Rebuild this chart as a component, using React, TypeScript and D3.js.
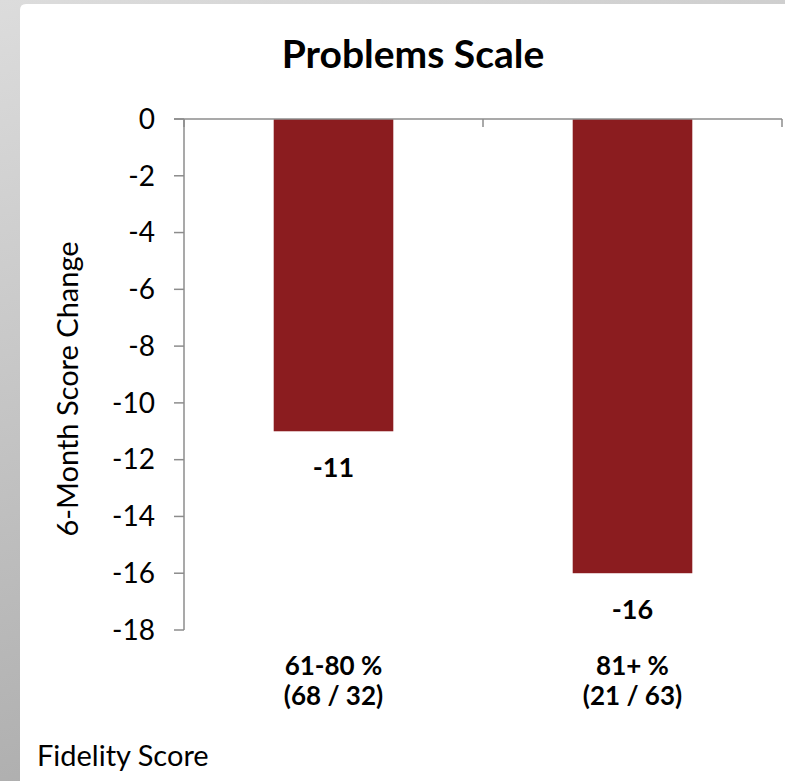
import React from "react";
import * as d3 from "d3";

const categories = ["61-80 %|(68 / 32)", "81+ %|(21 / 63)"];
const values = [-11, -16];
const valueLabels = ["-11", "-16"];
const yTicks = [0, -2, -4, -6, -8, -10, -12, -14, -16, -18];
const title = "Problems Scale";
const yTitle = "6-Month Score Change";
const xTitle = "Fidelity Score";

const W = 785;
const H = 781;
const FONT = "Lato, 'Open Sans', sans-serif";

export default function App() {
  const y = d3.scaleLinear().domain([0, -18]).range([119, 630]);
  const x = d3
    .scaleBand<string>()
    .domain(categories)
    .range([184, 782])
    .paddingInner(0.6)
    .paddingOuter(0.3);
  const step = x.step();
  const bounds = [0, 1, 2].map((i) => 184 + i * step);
  const axisColor = "#8c8c8c";

  return (
    <svg
      width={W}
      height={H}
      style={{ position: "absolute", left: 0, top: 0 }}
      fontFamily={FONT}
    >
      <defs>
        <linearGradient id="bg" x1="0" y1="0" x2="0.3" y2="1">
          <stop offset="0" stopColor="#dcdcdc" />
          <stop offset="1" stopColor="#acacac" />
        </linearGradient>
      </defs>
      <rect x={0} y={0} width={W} height={H} fill="url(#bg)" />
      <path
        d={`M20,${H} L20,10 Q20,4 26,4 L${W},4 L${W},${H} Z`}
        fill="#ffffff"
      />
      <text
        x={413}
        y={68}
        textAnchor="middle"
        fontSize={39}
        fontWeight="bold"
        fill="#000"
      >
        {title}
      </text>
      {/* bars */}
      {categories.map((c, i) => (
        <rect
          key={c}
          x={x(c)}
          y={y(0)}
          width={x.bandwidth()}
          height={y(values[i]) - y(0)}
          fill="#8b1c1f"
        />
      ))}
      {/* y axis */}
      <line x1={184} x2={184} y1={y(0)} y2={y(-18)} stroke={axisColor} strokeWidth={1.5} />
      {yTicks.map((t) => (
        <g key={t}>
          <line x1={174} x2={184} y1={y(t)} y2={y(t)} stroke={axisColor} strokeWidth={1.5} />
          <text
            x={155}
            y={y(t)}
            dy="0.35em"
            textAnchor="end"
            fontSize={28}
            fill="#000"
          >
            {t}
          </text>
        </g>
      ))}
      {/* x axis */}
      <line x1={174} x2={782} y1={y(0)} y2={y(0)} stroke={axisColor} strokeWidth={1.5} />
      {bounds.map((b, i) => (
        <line key={i} x1={b} x2={b} y1={y(0)} y2={y(0) + 8} stroke={axisColor} strokeWidth={1.5} />
      ))}
      {/* value labels */}
      {categories.map((c, i) => (
        <text
          key={c}
          x={(x(c) as number) + x.bandwidth() / 2}
          y={y(values[i]) + 36}
          dy="0.35em"
          textAnchor="middle"
          fontSize={27}
          fontWeight="bold"
          fill="#000"
        >
          {valueLabels[i]}
        </text>
      ))}
      {/* category labels */}
      {categories.map((c) => {
        const cx = (x(c) as number) + x.bandwidth() / 2;
        const lines = c.split("|");
        return (
          <text key={c} textAnchor="middle" fontSize={26} fontWeight="bold" fill="#000">
            {lines.map((l, j) => (
              <tspan key={j} x={cx} y={666 + j * 30} dy="0.35em">
                {l}
              </tspan>
            ))}
          </text>
        );
      })}
      <text
        transform={`translate(68,389) rotate(-90)`}
        textAnchor="middle"
        dy="0.35em"
        fontSize={29}
        fill="#000"
      >
        {yTitle}
      </text>
      <text x={37} y={756} dy="0.35em" fontSize={29} fill="#000">
        {xTitle}
      </text>
    </svg>
  );
}
